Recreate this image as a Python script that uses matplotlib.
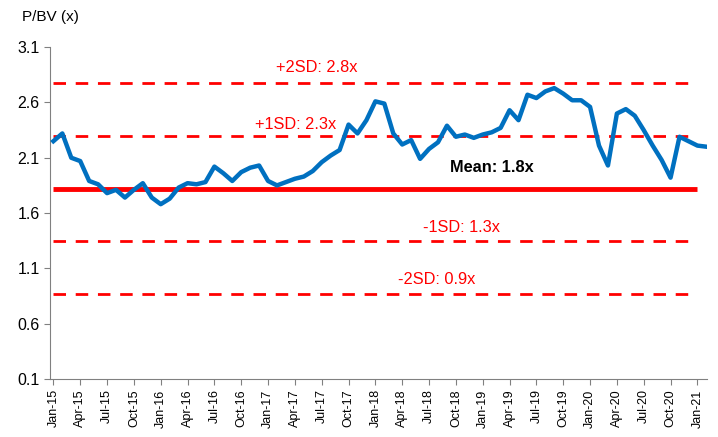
import matplotlib
matplotlib.use("Agg")
import matplotlib.pyplot as plt
import numpy as np

plt.rcParams['font.family'] = ['Liberation Sans', 'DejaVu Sans']

# monthly P/BV, Jan-15 .. Feb-21
months = ["Jan", "Feb", "Mar", "Apr", "May", "Jun", "Jul", "Aug", "Sep", "Oct", "Nov", "Dec"]
pbv = [2.25, 2.32, 2.10, 2.07, 1.89, 1.86, 1.78, 1.81, 1.74, 1.81, 1.87, 1.74,
       1.68, 1.73, 1.83, 1.87, 1.86, 1.88, 2.02, 1.96, 1.89, 1.97, 2.01, 2.03,
       1.89, 1.85, 1.88, 1.91, 1.93, 1.98, 2.06, 2.12, 2.17, 2.40, 2.32, 2.44,
       2.61, 2.59, 2.32, 2.22, 2.26, 2.09, 2.18, 2.24, 2.39, 2.29, 2.31, 2.28,
       2.31, 2.33, 2.37, 2.53, 2.44, 2.67, 2.64, 2.70, 2.73, 2.68, 2.62, 2.62,
       2.56, 2.21, 2.03, 2.50, 2.54, 2.48, 2.35, 2.21, 2.08, 1.92, 2.29, 2.25,
       2.21, 2.20]
dates = [f"{months[i % 12]}-{15 + i // 12}" for i in range(len(pbv))]

mean = 1.82
sd_lines = [2.78, 2.30, 1.35, 0.87]
sd_labels = ["+2SD: 2.8x", "+1SD: 2.3x", "-1SD: 1.3x", "-2SD: 0.9x"]
sd_label_pos = [(29.4, 2.92), (27.1, 2.40), (45.6, 1.47), (42.8, 1.00)]

fig = plt.figure(figsize=(7.18, 4.37), dpi=100)
ax = fig.add_axes([0.07, 0.133, 0.915, 0.759])

x = np.arange(len(pbv))
n_band = len(pbv) - 1  # bands stop at Jan-21
xb = np.arange(n_band)

ax.plot(xb, [mean] * n_band, color='#FF0000', lw=3.5, solid_capstyle='butt', zorder=2)
for v in sd_lines:
    ax.plot(xb, [v] * n_band, color='#FF0000', lw=2, dashes=(4.5, 3.5), zorder=2)
ax.plot(x, pbv, color='#0070C0', lw=3.2, solid_joinstyle='round', zorder=3)

for lab, (tx, ty) in zip(sd_labels, sd_label_pos):
    ax.text(tx, ty, lab, color='#FF0000', fontsize=11.8, ha='center', va='center')
ax.text(49, 2.01, "Mean: 1.8x", color='black', fontsize=11.8, fontweight='bold',
        ha='center', va='center')

ax.set_ylim(0.1, 3.1)
ax.set_yticks(np.arange(0.1, 3.11, 0.5))
ax.set_yticklabels([f"{v:.1f}" for v in np.arange(0.1, 3.11, 0.5)], fontsize=11.5)
ax.set_xlim(-0.35, len(pbv) - 0.9)
ax.set_xticks(x[::3])
ax.set_xticklabels(dates[::3], rotation=90, fontsize=9)

for s in ['top', 'right']:
    ax.spines[s].set_visible(False)
for s in ['left', 'bottom']:
    ax.spines[s].set_color('#808080')
ax.tick_params(axis='both', colors='#808080', labelcolor='black', length=4)

fig.text(0.03, 0.962, "P/BV (x)", fontsize=11, ha='left', va='center')

fig.savefig("out.png", dpi=100)
